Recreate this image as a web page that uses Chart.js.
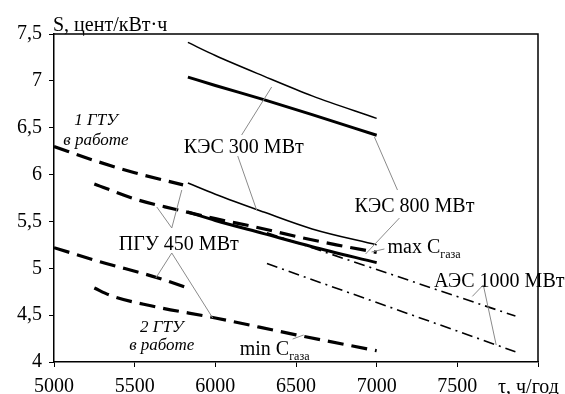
<!DOCTYPE html>
<html>
<head>
<meta charset="utf-8">
<script src="https://cdn.jsdelivr.net/npm/chart.js@4"></script>
<style>
  body { margin: 0; background: #fff; }
</style>
</head>
<body>
<canvas id="chart" width="565" height="394"></canvas>
<script>
// Оси
const xTicks = [5000, 5500, 6000, 6500, 7000, 7500, 8000];
const yTicks = [4, 4.5, 5, 5.5, 6, 6.5, 7, 7.5];

// КЭС (верхняя пара и нижняя пара)
const kesThinHiX = [5830, 6000, 6300, 6600, 7000];
const kesThinHiY = [7.41, 7.27, 7.05, 6.84, 6.60];
const kesThickHiX = [5830, 6000, 6300, 6600, 7000];
const kesThickHiY = [7.04, 6.95, 6.80, 6.64, 6.42];
const kesThinLoX = [5830, 6000, 6300, 6600, 7000];
const kesThinLoY = [5.91, 5.79, 5.60, 5.42, 5.25];
const kesThickLoX = [5830, 6000, 6300, 6600, 7000];
const kesThickLoY = [5.60, 5.51, 5.37, 5.23, 5.06];

// ПГУ 450 МВт
const pgu1MaxX = [5000, 5250, 5500, 5800];
const pgu1MaxY = [6.30, 6.15, 6.02, 5.89];
const pgu2MaxX = [5250, 5500, 5750, 6000, 6250, 6500, 6750, 7000];
const pgu2MaxY = [5.90, 5.74, 5.63, 5.53, 5.44, 5.34, 5.25, 5.17];
const pgu1MinX = [5000, 5285, 5640, 5810];
const pgu1MinY = [5.22, 5.07, 4.90, 4.80];
const pgu2MinX = [5250, 5350, 5600, 6000, 6500, 7000];
const pgu2MinY = [4.79, 4.71, 4.60, 4.47, 4.29, 4.12];

// АЭС 1000 МВт
const aesHiX = [6320, 7860];
const aesHiY = [5.38, 4.49];
const aesLoX = [6320, 7860];
const aesLoY = [5.05, 4.11];

function pts(xs, ys) {
  return xs.map((x, i) => ({ x: x, y: ys[i] }));
}

const serif = '"Liberation Serif", "Times New Roman", serif';

// подписи и выноски (в координатах данных)
const labels = [
  { t: 'КЭС 300 МВт', x: 6176, y: 6.23 },
  { t: 'ПГУ 450 МВт', x: 5773, y: 5.195 },
  { t: 'КЭС 800 МВт', x: 7234, y: 5.60 },
  { t: 'АЭС 1000 МВт', x: 7760, y: 4.80 },
  { t: '1 ГТУ', x: 5260, y: 6.53, it: true },
  { t: 'в работе', x: 5260, y: 6.315, it: true },
  { t: '2 ГТУ', x: 5668, y: 4.32, it: true },
  { t: 'в работе', x: 5668, y: 4.128, it: true }
];
const gasLabels = [
  { t: 'max C', x: 7067, y: 5.163 },
  { t: 'min C', x: 6151, y: 4.075 }
];
const leaders = [
  [6163, 6.422, 6349, 6.934],
  [6139, 6.198, 6256, 5.622],
  [7129, 5.835, 6986, 6.401],
  [7141, 5.536, 6931, 5.152],
  [5730, 5.43, 5637, 5.654],
  [5730, 5.43, 5792, 5.835],
  [5730, 5.163, 5631, 4.896],
  [5730, 5.163, 5984, 4.469],
  [7048, 5.206, 6968, 5.174],
  [6479, 4.245, 6547, 4.288],
  [7661, 4.822, 7593, 4.70],
  [7661, 4.822, 7741, 4.181]
];

const notes = {
  id: 'notes',
  afterDatasetsDraw(chart) {
    const c = chart.ctx, a = chart.chartArea;
    const sx = chart.scales.x, sy = chart.scales.y;
    c.save();
    // рамка сверху и справа
    c.strokeStyle = '#000';
    c.lineWidth = 1.5;
    c.beginPath();
    c.moveTo(a.left, a.top);
    c.lineTo(a.right, a.top);
    c.lineTo(a.right, a.bottom);
    c.stroke();

    // выноски
    c.strokeStyle = '#8a8a8a';
    c.lineWidth = 1;
    leaders.forEach(l => {
      c.beginPath();
      c.moveTo(sx.getPixelForValue(l[0]), sy.getPixelForValue(l[1]));
      c.lineTo(sx.getPixelForValue(l[2]), sy.getPixelForValue(l[3]));
      c.stroke();
    });

    c.fillStyle = '#000';
    c.textBaseline = 'alphabetic';
    c.textAlign = 'left';
    c.font = '20px ' + serif;
    // заголовки осей
    c.fillText('S, цент/кВт·ч', a.left - 1, a.top - 3);
    c.fillText('τ, ч/год', a.right - 40, a.bottom + 31);

    c.textAlign = 'center';
    labels.forEach(l => {
      c.font = l.it ? 'italic 17px ' + serif : '20px ' + serif;
      c.fillText(l.t, sx.getPixelForValue(l.x), sy.getPixelForValue(l.y));
    });

    c.textAlign = 'left';
    gasLabels.forEach(l => {
      const px = sx.getPixelForValue(l.x), py = sy.getPixelForValue(l.y);
      c.font = '20px ' + serif;
      c.fillText(l.t, px, py);
      const w = c.measureText(l.t).width;
      c.font = '12px ' + serif;
      c.fillText('газа', px + w, py + 5);
    });
    c.restore();
  }
};

const thin = { borderWidth: 1.5, borderDash: [] };
const thick = { borderWidth: 3, borderDash: [] };
const dash = { borderWidth: 3.2, borderDash: [16, 8] };
const dashDot = { borderWidth: 1.6, borderDash: [11, 5, 2, 5] };

function series(xs, ys, style) {
  return Object.assign({
    data: pts(xs, ys),
    borderColor: '#000',
    pointRadius: 0,
    fill: false,
    cubicInterpolationMode: 'monotone',
    borderCapStyle: 'butt'
  }, style);
}

new Chart(document.getElementById('chart'), {
  type: 'line',
  data: {
    datasets: [
      series(kesThinHiX, kesThinHiY, thin),
      series(kesThickHiX, kesThickHiY, thick),
      series(kesThinLoX, kesThinLoY, thin),
      series(kesThickLoX, kesThickLoY, thick),
      series(pgu1MaxX, pgu1MaxY, dash),
      series(pgu2MaxX, pgu2MaxY, dash),
      series(pgu1MinX, pgu1MinY, dash),
      series(pgu2MinX, pgu2MinY, dash),
      series(aesHiX, aesHiY, dashDot),
      series(aesLoX, aesLoY, dashDot)
    ]
  },
  options: {
    responsive: false,
    animation: false,
    layout: { padding: { top: 34, right: 27, left: 0, bottom: 0 } },
    plugins: { legend: { display: false }, tooltip: { enabled: false } },
    scales: {
      x: {
        type: 'linear',
        min: xTicks[0],
        max: xTicks[xTicks.length - 1],
        afterBuildTicks: s => { s.ticks = xTicks.map(v => ({ value: v })); },
        afterFit: s => { s.height = 32; s.paddingLeft = 0; s.paddingRight = 0; },
        grid: { drawOnChartArea: false, drawTicks: true, tickLength: 5, tickColor: '#000' },
        border: { display: true, color: '#000', width: 1.5 },
        ticks: {
          autoSkip: false,
          maxRotation: 0,
          padding: 8,
          color: '#000',
          font: { family: serif, size: 20 },
          callback: v => v === 8000 ? '' : v
        }
      },
      y: {
        type: 'linear',
        min: yTicks[0],
        max: yTicks[yTicks.length - 1],
        afterBuildTicks: s => { s.ticks = yTicks.map(v => ({ value: v })); },
        afterFit: s => { s.width = 54; s.paddingTop = 0; s.paddingBottom = 0; },
        grid: { drawOnChartArea: false, drawTicks: true, tickLength: 5, tickColor: '#000' },
        border: { display: true, color: '#000', width: 1.5 },
        ticks: {
          padding: 7,
          color: '#000',
          font: { family: serif, size: 20 },
          callback: v => String(v).replace('.', ',')
        }
      }
    }
  },
  plugins: [notes]
});
</script>
</body>
</html>
